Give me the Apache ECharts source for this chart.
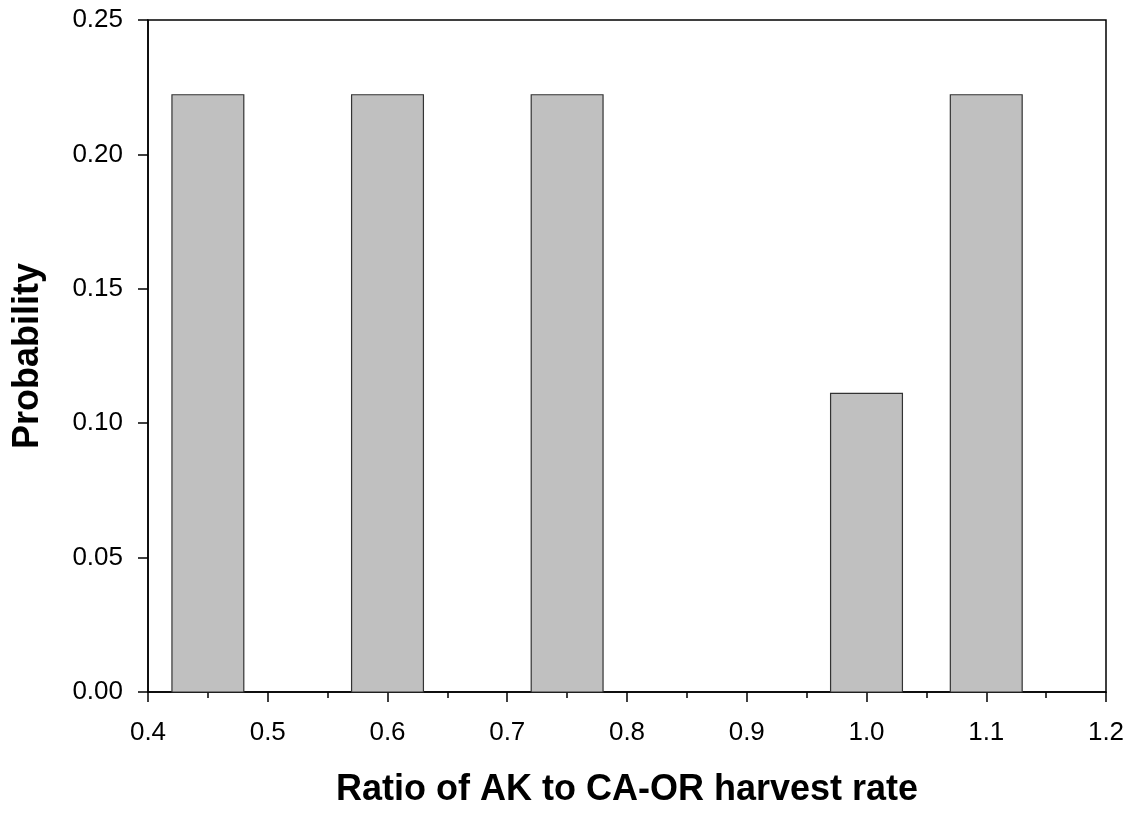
<!DOCTYPE html>
<html><head><meta charset="utf-8">
<script src="https://cdn.jsdelivr.net/npm/echarts@6/dist/echarts.min.js"></script>
<style>html,body{margin:0;padding:0;background:#fff}#c{width:1132px;height:813px}</style>
</head><body><div id="c"></div>
<script>
var binCenters = [0.45, 0.60, 0.75, 1.00, 1.10];
var probabilities = [0.2222, 0.2222, 0.2222, 0.1111, 0.2222];
var binWidth = 0.06;
var xTitle = 'Ratio of AK to CA-OR harvest rate';
var yTitle = 'Probability';

var data = binCenters.map(function (c, i) { return [c, probabilities[i]]; });
var chart = echarts.init(document.getElementById('c'));
var font = 'Arial, "Liberation Sans", sans-serif';
chart.setOption({
  animation: false,
  grid: { left: 148, right: 26, top: 20, bottom: 120, show: true, borderColor: '#000', borderWidth: 1.5, backgroundColor: 'transparent' },
  xAxis: {
    type: 'value', min: 0.4, max: 1.2, interval: 0.1,
    axisLine: { show: true, onZero: false, lineStyle: { color: '#000', width: 1.5 } },
    axisTick: { show: true, length: 10, lineStyle: { color: '#000', width: 1.5 } },
    minorTick: { show: true, splitNumber: 2, length: 6, lineStyle: { color: '#000', width: 1.5 } },
    splitLine: { show: false },
    axisLabel: { color: '#000', fontSize: 26, fontFamily: font, margin: 28, formatter: function (v) { return v.toFixed(1); } },
    name: xTitle, nameLocation: 'middle', nameGap: 80,
    nameTextStyle: { color: '#000', fontSize: 36, fontWeight: 'bold', fontFamily: font }
  },
  yAxis: {
    type: 'value', min: 0, max: 0.25, interval: 0.05,
    axisLine: { show: true, lineStyle: { color: '#000', width: 1.5 } },
    axisTick: { show: true, length: 10, lineStyle: { color: '#000', width: 1.5 } },
    splitLine: { show: false },
    axisLabel: { color: '#000', fontSize: 26, fontFamily: font, margin: 25, formatter: function (v) { return v.toFixed(2); } },
    name: yTitle, nameLocation: 'middle', nameGap: 102,
    nameTextStyle: { color: '#000', fontSize: 36, fontWeight: 'bold', fontFamily: font }
  },
  series: [{
    type: 'custom',
    data: data,
    renderItem: function (params, api) {
      var c = api.value(0), v = api.value(1);
      var p0 = api.coord([c - binWidth / 2, v]);
      var p1 = api.coord([c + binWidth / 2, 0]);
      return {
        type: 'rect',
        shape: { x: p0[0], y: p0[1], width: p1[0] - p0[0], height: p1[1] - p0[1] },
        style: { fill: '#c0c0c0', stroke: '#333', lineWidth: 1.2 }
      };
    }
  }]
});
</script></body></html>
